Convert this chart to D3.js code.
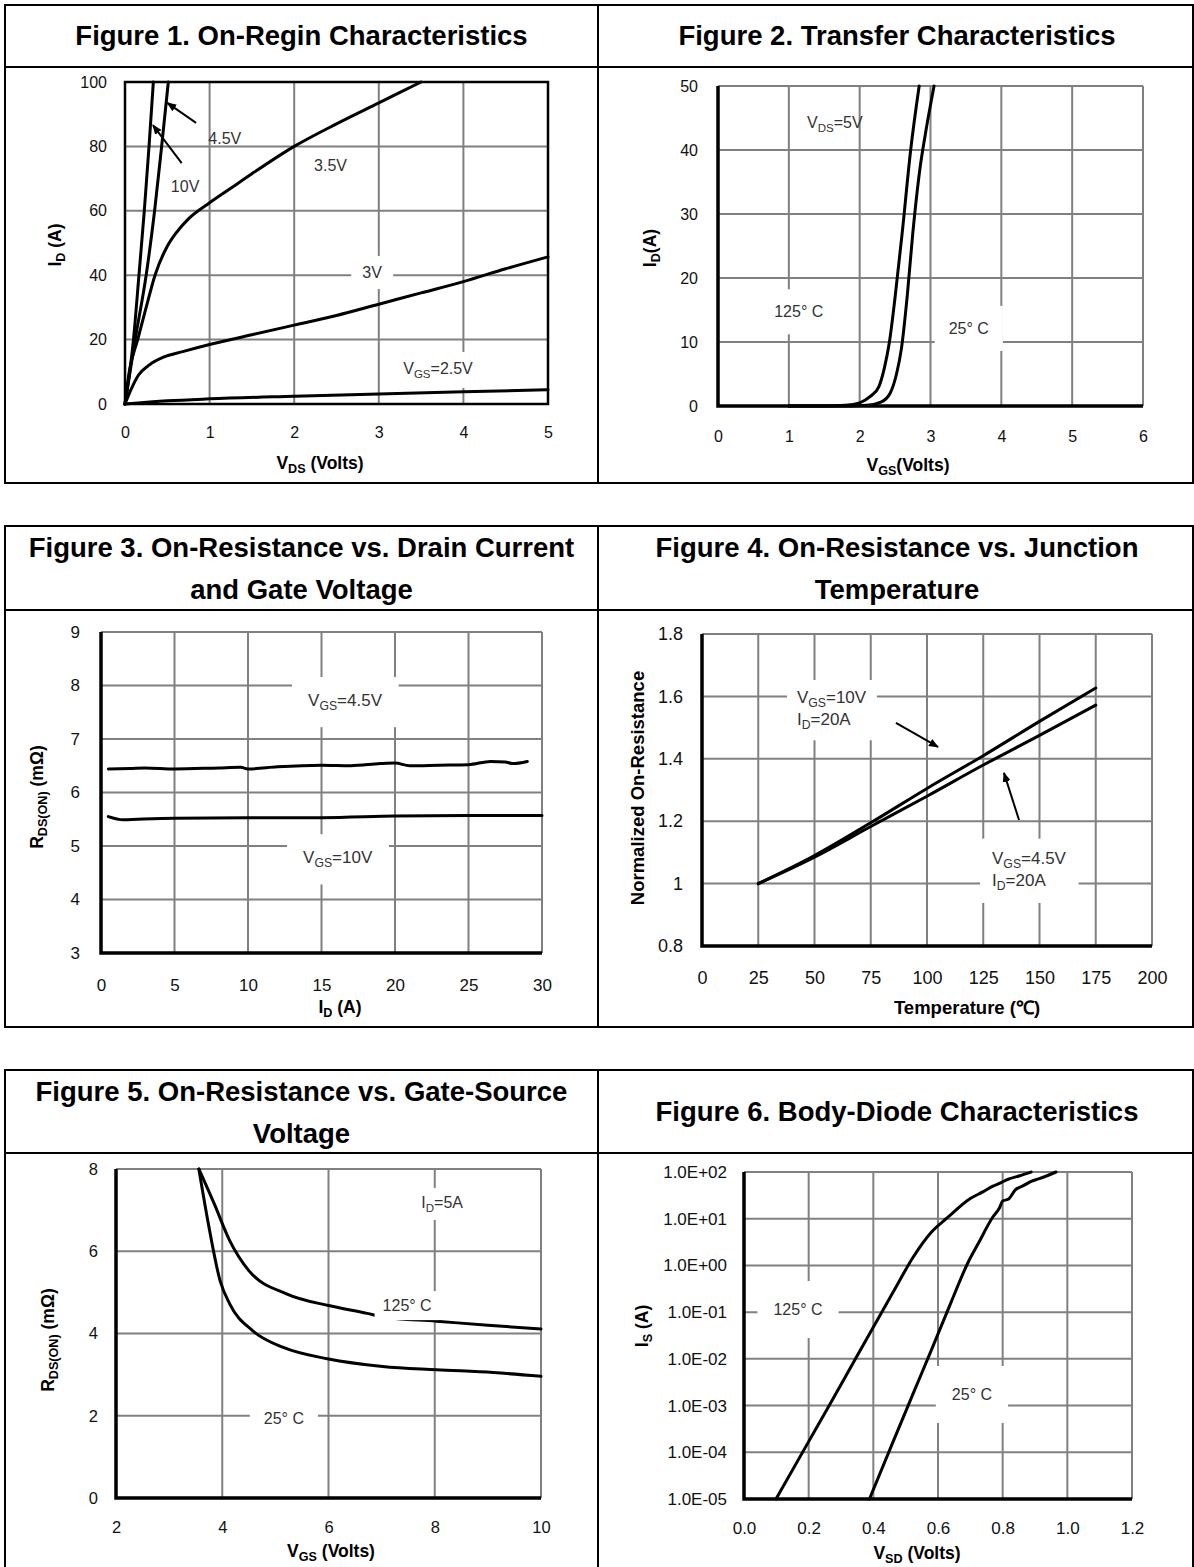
<!DOCTYPE html>
<html>
<head>
<meta charset="utf-8">
<script src="https://cdn.jsdelivr.net/npm/d3@7"></script>
<style>
  body { margin: 0; background: #fff; }
  text { font-family: "Liberation Sans", Arial, sans-serif; }
</style>
</head>
<body>
<svg id="page"></svg>
<script>
// ---- Figure 1: On-region characteristics (ID vs VDS)
const fig1VdsTicks = [0, 1, 2, 3, 4, 5];
const fig1IdTicks = [0, 20, 40, 60, 80, 100];
const fig1Vgs10 = [[0, 0], [0.1, 20], [0.165, 40], [0.228, 60], [0.284, 80], [0.335, 100]];
const fig1Vgs45 = [[0, 0], [0.12, 20], [0.25, 40], [0.35, 60], [0.433, 80], [0.512, 100]];
const fig1Vgs35 = [[0, 0], [0.05, 10], [0.15, 20], [0.25, 30], [0.355, 40], [0.5, 49], [0.6, 53],
  [0.75, 57.5], [1.0, 62.5], [1.25, 67], [1.5, 71.5], [2.0, 80], [2.5, 87], [3.0, 93.5], [3.5, 100]];
const fig1Vgs3 = [[0, 0], [0.08, 5], [0.16, 9], [0.28, 12], [0.47, 14.7], [0.67, 16.2], [1.0, 18.5],
  [1.5, 21.5], [2.0, 24.5], [2.5, 27.5], [3.0, 31], [3.5, 34.5], [4.0, 38], [4.5, 42], [5.0, 45.7]];
const fig1Vgs25 = [[0, 0], [0.5, 1], [1, 1.6], [2, 2.4], [3, 3.1], [4, 3.8], [5, 4.4]];

// ---- Figure 2: transfer characteristics (ID vs VGS)
const fig2VgsTicks = [0, 1, 2, 3, 4, 5, 6];
const fig2IdTicks = [0, 10, 20, 30, 40, 50];
const fig2T125 = [[1.0, 0], [1.5, 0], [1.8, 0.1], [2.0, 0.5], [2.15, 1.5], [2.27, 3], [2.35, 6],
  [2.42, 10], [2.5, 17], [2.6, 27], [2.72, 40], [2.84, 50]];
const fig2T25 = [[1.0, 0], [1.8, 0], [2.1, 0.1], [2.3, 0.6], [2.43, 2], [2.52, 5], [2.59, 9],
  [2.67, 17], [2.75, 27], [2.85, 37], [2.92, 42], [3.05, 50]];

// ---- Figure 3: RDS(on) vs ID
const fig3IdTicks = [0, 5, 10, 15, 20, 25, 30];
const fig3RTicks = [3, 4, 5, 6, 7, 8, 9];
const fig3Vgs45 = [[0.5, 6.44], [2, 6.45], [3, 6.46], [5, 6.44], [8, 6.46], [9.5, 6.47], [10, 6.44],
  [12, 6.48], [15, 6.51], [17, 6.5], [19, 6.54], [20, 6.55], [21, 6.5], [23, 6.51], [25, 6.52],
  [26.5, 6.58], [27.5, 6.57], [28, 6.54], [29, 6.58]];
const fig3Vgs10 = [[0.5, 5.55], [1.5, 5.49], [2.5, 5.5], [5, 5.52], [10, 5.53], [15, 5.53],
  [20, 5.56], [25, 5.57], [30, 5.57]];

// ---- Figure 4: normalized RDS(on) vs junction temperature
const fig4TTicks = [0, 25, 50, 75, 100, 125, 150, 175, 200];
const fig4RTicks = [0.8, 1, 1.2, 1.4, 1.6, 1.8];
const fig4Vgs10 = [[25, 1.0], [50, 1.09], [75, 1.195], [100, 1.305], [125, 1.41], [150, 1.52], [175, 1.627]];
const fig4Vgs45 = [[25, 1.0], [50, 1.085], [75, 1.183], [100, 1.28], [125, 1.38], [150, 1.475], [175, 1.572]];

// ---- Figure 5: RDS(on) vs VGS
const fig5VgsTicks = [2, 4, 6, 8, 10];
const fig5RTicks = [0, 2, 4, 6, 8];
const fig5T125 = [[3.56, 8], [3.85, 7.15], [4.14, 6.26], [4.5, 5.53], [5.22, 4.96], [6.0, 4.68],
  [6.73, 4.49], [7.02, 4.4], [8.03, 4.3], [9.0, 4.2], [10, 4.11]];
const fig5T25 = [[3.56, 8], [3.74, 6.66], [3.96, 5.28], [4.14, 4.72], [4.57, 4.07], [5.15, 3.66],
  [6.0, 3.38], [7.02, 3.2], [8.03, 3.12], [9.1, 3.05], [10, 2.96]];

// ---- Figure 6: body-diode characteristics (IS vs VSD, log)
const fig6VsdTicks = [0, 0.2, 0.4, 0.6, 0.8, 1.0, 1.2];
const fig6IsTicks = [1e2, 1e1, 1e0, 1e-1, 1e-2, 1e-3, 1e-4, 1e-5];
const fig6IsLabels = ["1.0E+02", "1.0E+01", "1.0E+00", "1.0E-01", "1.0E-02", "1.0E-03", "1.0E-04", "1.0E-05"];
const fig6T125 = [[0.099, 1e-5], [0.199, 1.65e-4], [0.264, 1.02e-3], [0.347, 1.07e-2], [0.405, 5.5e-2],
  [0.464, 0.29], [0.523, 1.5], [0.58, 5.2], [0.629, 10.5], [0.70, 27], [0.74, 38], [0.77, 50],
  [0.79, 57], [0.817, 70], [0.85, 82], [0.888, 100]];
const fig6T25 = [[0.388, 1e-5], [0.458, 1.5e-4], [0.523, 1.8e-3], [0.582, 1.7e-2], [0.64, 0.16],
  [0.694, 1.2], [0.724, 2.9], [0.77, 11], [0.79, 17], [0.8, 24], [0.817, 26], [0.84, 42],
  [0.864, 51], [0.89, 64], [0.911, 71], [0.965, 100]];

const W = 1194, H = 1567;
const GRID = '#808080';
const svg = d3.select('#page').attr('width', W).attr('height', H);
svg.append('rect').attr('width', W).attr('height', H).attr('fill', '#fff');

svg.append('defs').append('marker')
  .attr('id', 'arrow').attr('viewBox', '0 0 10 10')
  .attr('refX', 9).attr('refY', 5)
  .attr('markerWidth', 5).attr('markerHeight', 5)
  .attr('orient', 'auto')
  .append('path').attr('d', 'M0,1L10,5L0,9Z').attr('fill', '#000');

// text with _{sub} parts
function rich(g, str, x, y, fs, opts = {}) {
  const t = g.append('text')
    .attr('x', x).attr('y', y)
    .attr('font-size', fs)
    .attr('text-anchor', opts.anchor || 'middle')
    .attr('font-weight', opts.bold ? 'bold' : null)
    .attr('fill', opts.color || '#000');
  if (opts.rotate) t.attr('transform', `rotate(-90,${x},${y})`);
  let shifted = false;
  str.split(/(_\{[^}]*\})/).filter(s => s).forEach(p => {
    if (p.startsWith('_{')) {
      t.append('tspan').attr('font-size', fs * 0.72).attr('dy', fs * 0.25).text(p.slice(2, -1));
      shifted = true;
    } else {
      const s = t.append('tspan').text(p);
      if (shifted) { s.attr('dy', -fs * 0.25); shifted = false; }
    }
  });
  return t;
}

// label(s) sitting on a white box that hides the grid
function note(g, lines, x, y, fs, padX, padY, anchor, lineH) {
  const nodes = lines.map((s, i) => rich(g, s, x, y + i * (lineH || 0), fs, { anchor: anchor, color: '#333' }));
  const boxes = nodes.map(n => n.node().getBBox());
  const x0 = d3.min(boxes, b => b.x) - padX, x1 = d3.max(boxes, b => b.x + b.width) + padX;
  const y0 = d3.min(boxes, b => b.y) - padY, y1 = d3.max(boxes, b => b.y + b.height) + padY;
  g.insert('rect', () => nodes[0].node())
    .attr('x', x0).attr('y', y0).attr('width', x1 - x0).attr('height', y1 - y0)
    .attr('fill', '#fff');
}

function arrow(g, x1, y1, x2, y2) {
  g.append('line')
    .attr('x1', x1).attr('y1', y1).attr('x2', x2).attr('y2', y2)
    .attr('stroke', '#000').attr('stroke-width', 2)
    .attr('marker-end', 'url(#arrow)');
}

function chart(o) {
  const x = d3.scaleLinear().domain(o.xDomain).range([o.left, o.right]);
  const y = (o.yLog ? d3.scaleLog() : d3.scaleLinear()).domain(o.yDomain).range([o.bottom, o.top]);
  const g = svg.append('g');

  // grid
  g.append('g').selectAll('line').data(o.xTicks).join('line')
    .attr('x1', d => x(d)).attr('x2', d => x(d))
    .attr('y1', o.top).attr('y2', o.bottom)
    .attr('stroke', GRID).attr('stroke-width', 2);
  g.append('g').selectAll('line').data(o.yTicks).join('line')
    .attr('x1', o.left).attr('x2', o.right)
    .attr('y1', d => y(d)).attr('y2', d => y(d))
    .attr('stroke', GRID).attr('stroke-width', 2);

  // tick labels
  const fs = o.tickSize || 16;
  g.append('g').attr('transform', `translate(0,${o.bottom})`)
    .call(d3.axisBottom(x).tickValues(o.xTicks).tickSize(0).tickPadding(o.xPad).tickFormat(o.xFmt))
    .call(a => a.select('.domain').remove())
    .attr('font-family', null).attr('font-size', fs)
    .selectAll('text').attr('fill', '#111');
  g.append('g').attr('transform', `translate(${o.left},0)`)
    .call(d3.axisLeft(y).tickValues(o.yTicks).tickSize(0).tickPadding(o.yPad).tickFormat(o.yFmt))
    .call(a => a.select('.domain').remove())
    .attr('font-family', null).attr('font-size', fs)
    .selectAll('text').attr('fill', '#111');

  // curves
  const line = d3.line().x(d => x(d[0])).y(d => y(d[1])).curve(d3.curveMonotoneX);
  g.append('g').selectAll('path').data(o.series).join('path')
    .attr('d', line)
    .attr('fill', 'none').attr('stroke', '#000')
    .attr('stroke-width', 3).attr('stroke-linejoin', 'round').attr('stroke-linecap', 'round');

  // frame
  if (o.fullFrame) {
    g.append('rect').attr('x', o.left).attr('y', o.top)
      .attr('width', o.right - o.left).attr('height', o.bottom - o.top)
      .attr('fill', 'none').attr('stroke', '#000').attr('stroke-width', 2.5);
  } else {
    g.append('path')
      .attr('d', `M${o.left},${o.top}V${o.bottom}H${o.right}`)
      .attr('fill', 'none').attr('stroke', '#000').attr('stroke-width', 3.5);
  }

  // axis titles
  const ts = o.titleSize || 17.5;
  rich(g, o.xTitle, o.xTitlePos[0], o.xTitlePos[1], ts, { bold: true });
  rich(g, o.yTitle, o.yTitlePos[0], o.yTitlePos[1], ts, { bold: true, rotate: true });

  return { g, x, y };
}

// ---- page frame and titles
const frame = svg.append('g').attr('fill', 'none').attr('stroke', '#000').attr('stroke-width', 2);
[[5, 483, 67], [526, 1027, 610], [1070, 1575, 1153]].forEach(([t, b, m]) => {
  frame.append('rect').attr('x', 5).attr('y', t).attr('width', 1188).attr('height', b - t);
  frame.append('line').attr('x1', 598).attr('x2', 598).attr('y1', t).attr('y2', b);
  frame.append('line').attr('x1', 5).attr('x2', 1193).attr('y1', m).attr('y2', m);
});

const titles = svg.append('g');
function title(lines, cx, y0) {
  lines.forEach((s, i) => rich(titles, s, cx, y0 + i * 42, 27.5, { bold: true }));
}
title(['Figure 1. On-Regin Characteristics'], 301.5, 45);
title(['Figure 2. Transfer Characteristics'], 897, 45);
title(['Figure 3. On-Resistance vs. Drain Current', 'and Gate Voltage'], 301.5, 557);
title(['Figure 4. On-Resistance vs. Junction', 'Temperature'], 897, 557);
title(['Figure 5. On-Resistance vs. Gate-Source', 'Voltage'], 301.5, 1101);
title(['Figure 6. Body-Diode Characteristics'], 897, 1121);

// ---- Figure 1
{
  const c = chart({
    left: 125, right: 548, top: 82, bottom: 404,
    xDomain: [0, 5], yDomain: [0, 100],
    xTicks: fig1VdsTicks, yTicks: fig1IdTicks,
    xPad: 23, yPad: 18, xFmt: d3.format('d'), yFmt: d3.format('d'),
    series: [fig1Vgs10, fig1Vgs45, fig1Vgs35, fig1Vgs3, fig1Vgs25],
    fullFrame: true,
    xTitle: 'V_{DS} (Volts)', xTitlePos: [320, 469],
    yTitle: 'I_{D} (A)', yTitlePos: [61, 245]
  });
  const { g, x, y } = c;
  rich(g, '4.5V', x(1.18), y(82.6) + 6, 16, { color: '#333' });
  rich(g, '10V', x(0.71), y(67.7) + 6, 16, { color: '#333' });
  rich(g, '3.5V', x(2.43), y(74.2) + 6, 16, { color: '#333' });
  note(g, ['3V'], x(2.92), y(41) + 6, 16, 11, 8, 'middle');
  note(g, ['V_{GS}=2.5V'], x(3.7), y(11.2) + 6, 16, 8, 8, 'middle');
  arrow(g, x(0.84), y(87.3), x(0.5), y(93.5));
  arrow(g, x(0.67), y(74.8), x(0.33), y(86.6));
}

// ---- Figure 2
{
  const { g, x, y } = chart({
    left: 718, right: 1143, top: 86, bottom: 406,
    xDomain: [0, 6], yDomain: [0, 50],
    xTicks: fig2VgsTicks, yTicks: fig2IdTicks,
    xPad: 25, yPad: 20, xFmt: d3.format('d'), yFmt: d3.format('d'),
    series: [fig2T125, fig2T25],
    xTitle: 'V_{GS}(Volts)', xTitlePos: [908, 471],
    yTitle: 'I_{D}(A)', yTitlePos: [656, 248]
  });
  rich(g, 'V_{DS}=5V', x(1.65), y(44.4) + 6, 16, { color: '#333' });
  note(g, ['125°  C'], x(1.14), y(14.8) + 6, 16, 14, 14, 'middle');
  note(g, ['25°  C'], x(3.54), y(12.2) + 6, 16, 14, 14, 'middle');
}

// ---- Figure 3
{
  const { g, x, y } = chart({
    left: 101, right: 542, top: 632, bottom: 953,
    xDomain: [0, 30], yDomain: [3, 9],
    xTicks: fig3IdTicks, yTicks: fig3RTicks,
    xPad: 26, yPad: 21, xFmt: d3.format('d'), yFmt: d3.format('d'),
    tickSize: 17,
    series: [fig3Vgs45, fig3Vgs10],
    xTitle: 'I_{D} (A)', xTitlePos: [340, 1013],
    yTitle: 'R_{DS(ON)} (mΩ)', yTitlePos: [43, 797]
  });
  note(g, ['V_{GS}=4.5V'], x(16.6), y(7.73) + 6, 17, 16, 14, 'middle');
  note(g, ['V_{GS}=10V'], x(16.1), y(4.79) + 6, 17, 16, 14, 'middle');
}

// ---- Figure 4
{
  const { g, x, y } = chart({
    left: 702, right: 1152, top: 634, bottom: 946,
    xDomain: [0, 200], yDomain: [0.8, 1.8],
    xTicks: fig4TTicks, yTicks: fig4RTicks,
    xPad: 25, yPad: 19, xFmt: d3.format('d'), yFmt: d => String(+d.toFixed(1)),
    tickSize: 18, titleSize: 18.5,
    series: [fig4Vgs10, fig4Vgs45],
    xTitle: 'Temperature (℃)', xTitlePos: [967, 1014],
    yTitle: 'Normalized On-Resistance', yTitlePos: [644, 788]
  });
  note(g, ['V_{GS}=10V', 'I_{D}=20A'], x(42.2), y(1.598) + 6, 17, 10, 8, 'start', 22);
  note(g, ['V_{GS}=4.5V', 'I_{D}=20A'], x(128.9), y(1.083) + 6, 17, 12, 10, 'start', 22);
  arrow(g, x(86.2), y(1.515), x(104.9), y(1.438));
  arrow(g, x(140.9), y(1.204), x(134.2), y(1.355));
}

// ---- Figure 5
{
  const { g, x, y } = chart({
    left: 116, right: 541, top: 1169, bottom: 1498,
    xDomain: [2, 10], yDomain: [0, 8],
    xTicks: fig5VgsTicks, yTicks: fig5RTicks,
    xPad: 23, yPad: 18, xFmt: d3.format('d'), yFmt: d3.format('d'),
    tickSize: 16.5,
    series: [fig5T125, fig5T25],
    xTitle: 'V_{GS} (Volts)', xTitlePos: [331, 1557],
    yTitle: 'R_{DS(ON)} (mΩ)', yTitlePos: [54, 1340]
  });
  note(g, ['I_{D}=5A'], x(8.14), y(7.2) + 6, 16, 6, 6, 'middle');
  note(g, ['125°  C'], x(7.48), y(4.69) + 6, 16, 8, 6, 'middle');
  note(g, ['25°  C'], x(5.16), y(1.95) + 6, 16, 14, 14, 'middle');
}

// ---- Figure 6
{
  const { g, x, y } = chart({
    left: 744, right: 1132, top: 1172, bottom: 1499,
    xDomain: [0, 1.2], yDomain: [1e-5, 1e2], yLog: true,
    xTicks: fig6VsdTicks, yTicks: fig6IsTicks,
    xPad: 23, yPad: 17, xFmt: d3.format('.1f'),
    yFmt: d => fig6IsLabels[fig6IsTicks.findIndex(v => Math.abs(Math.log10(v) - Math.log10(d)) < 1e-6)],
    tickSize: 17,
    series: [fig6T125, fig6T25],
    xTitle: 'V_{SD} (Volts)', xTitlePos: [917, 1559],
    yTitle: 'I_{S} (A)', yTitlePos: [648, 1326]
  });
  note(g, ['125°  C'], x(0.167), y(0.1166) + 6, 16, 16, 20, 'middle');
  note(g, ['25°  C'], x(0.705), y(0.00177) + 6, 16, 16, 20, 'middle');
}
</script>
</body>
</html>
